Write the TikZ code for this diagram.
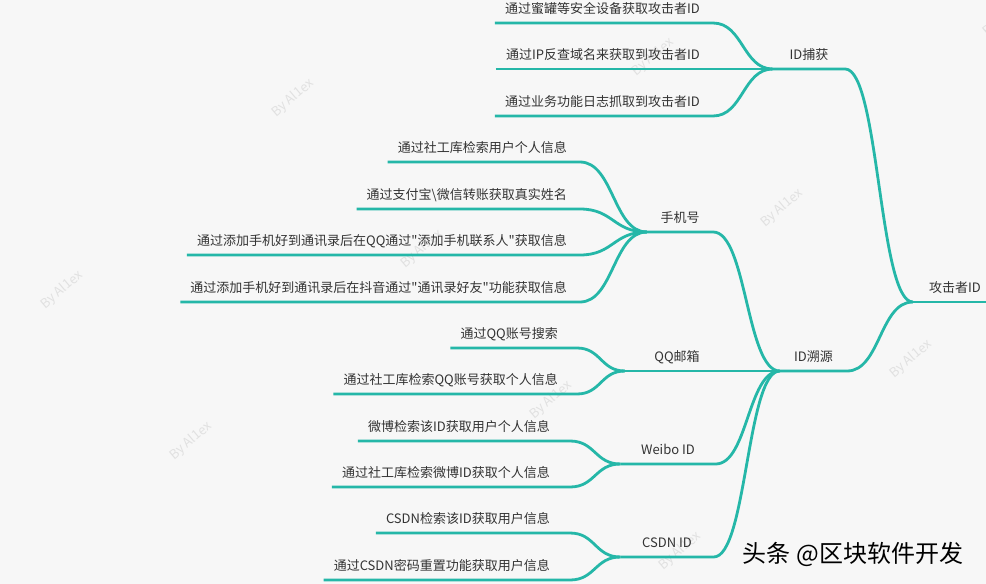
\documentclass[tikz,border=0pt]{standalone}
\usepackage{fontspec}
\newfontfamily\cjk{Noto Sans CJK SC}
\usetikzlibrary{calc}

\definecolor{stemcol}{RGB}{37,183,168}
\definecolor{txt}{RGB}{51,51,51}
\definecolor{bg}{RGB}{247,247,247}
\definecolor{wmark}{RGB}{225,225,225}

\tikzset{
  leaf/.style={font=\cjk\fontsize{13}{15}\selectfont, text=txt, inner xsep=0pt, inner ysep=9pt, text depth=0pt, anchor=south east},
  topic/.style={font=\cjk\fontsize{13}{15}\selectfont, text=txt, inner xsep=0pt, inner ysep=9pt, text depth=0pt, anchor=south},
  stem/.style={draw=stemcol, line width=2.8pt, line join=round},
  branch/.style={to path={let \p1=(\tikztostart), \p2=(\tikztotarget) in
      .. controls ({(\x1+\x2)/2},\y1) and ({(\x1+\x2)/2},\y2) .. (\tikztotarget) \tikztonodes}},
  wm/.style={font=\cjk\fontsize{13}{15}\selectfont, text=wmark, rotate=40},
  logo/.style={font=\cjk\fontsize{24}{28}\selectfont, text=black}
}

\begin{document}
\begin{tikzpicture}[x=1pt,y=-1pt]
\useasboundingbox (0,0) rectangle (986,584);
\fill[bg] (0,0) rectangle (986,584);

% watermarks
\node[wm] (wm1) at (293,98) {By Al1ex};
\node[wm] (wm2) at (422,249) {By Al1ex};
\node[wm] (wm3) at (551,400) {By Al1ex};
\node[wm] (wm4) at (680,551) {By Al1ex};
\node[wm] (wm5) at (62,290) {By Al1ex};
\node[wm] (wm6) at (191,441) {By Al1ex};
\node[wm] (wm8) at (653,57) {By Al1ex};
\node[wm] (wm9) at (782,208) {By Al1ex};
\node[wm] (wm10) at (911,359) {By Al1ex};
\node[wm] (wm11) at (1004,17) {By Al1ex};

% topics
\node[topic, minimum width=84pt] (root) at (955,302) {攻击者ID};
\node[topic, minimum width=72pt] (cap) at (809,69) {ID捕获};
\node[topic, minimum width=67pt] (src) at (813.5,371) {ID溯源};
\node[topic, minimum width=66pt] (phone) at (680,232) {手机号};
\node[topic, minimum width=104pt] (qq) at (677,371) {QQ邮箱};
\node[topic, minimum width=95pt] (weibo) at (668,464) {Weibo ID};
\node[topic, minimum width=93pt] (csdn) at (667,557) {CSDN ID};

% leaves
\node[leaf] (a1) at (700,23) {通过蜜罐等安全设备获取攻击者ID};
\node[leaf] (a2) at (700,69) {通过IP反查域名来获取到攻击者ID};
\node[leaf] (a3) at (700,116) {通过业务功能日志抓取到攻击者ID};

\node[leaf] (b1) at (567,162) {通过社工库检索用户个人信息};
\node[leaf] (b2) at (567,209) {通过支付宝{\textbackslash}微信转账获取真实姓名};
\node[leaf] (b3) at (567,255) {通过添加手机好到通讯录后在QQ通过"添加手机联系人"获取信息};
\node[leaf] (b4) at (567,302) {通过添加手机好到通讯录后在抖音通过"通讯录好友"功能获取信息};

\node[leaf] (c1) at (558,348) {通过QQ账号搜索};
\node[leaf] (c2) at (558,394) {通过社工库检索QQ账号获取个人信息};

\node[leaf] (d1) at (550,441) {微博检索该ID获取用户个人信息};
\node[leaf] (d2) at (550,487) {通过社工库检索微博ID获取个人信息};

\node[leaf] (e1) at (550,533) {CSDN检索该ID获取用户信息};
\node[leaf] (e2) at (550,580) {通过CSDN密码重置功能获取用户信息};

\node[logo] (brand) at (853,554) {头条 @区块软件开发};

% stems
\draw[stem] (root.south west) -- (root.south east);
\draw[stem] (cap.south west) -- (cap.south east) to[branch] (root.south west);
\draw[stem] (src.south west) -- (src.south east) to[branch] (root.south west);
\draw[stem] (phone.south west) -- (phone.south east) to[branch] (src.south west);
\draw[stem] (qq.south west) -- (qq.south east) -- (src.south west);
\draw[stem] (weibo.south west) -- (weibo.south east) to[branch] (src.south west);
\draw[stem] (csdn.south west) -- (csdn.south east) to[branch] (src.south west);

\draw[stem] ([xshift=-10pt]a1.south west) -- ([xshift=13pt]a1.south east) to[branch] (cap.south west);
\draw[stem] ([xshift=-10pt]a2.south west) -- (cap.south west);
\draw[stem] ([xshift=-10pt]a3.south west) -- ([xshift=13pt]a3.south east) to[branch] (cap.south west);

\draw[stem] ([xshift=-10pt]b1.south west) -- ([xshift=13pt]b1.south east) to[branch] (phone.south west);
\draw[stem] ([xshift=-10pt]b2.south west) -- ([xshift=13pt]b2.south east) to[branch] (phone.south west);
\draw[stem] ([xshift=-10pt]b3.south west) -- ([xshift=13pt]b3.south east) to[branch] (phone.south west);
\draw[stem] ([xshift=-10pt]b4.south west) -- ([xshift=13pt]b4.south east) to[branch] (phone.south west);

\draw[stem] ([xshift=-10pt]c1.south west) -- ([xshift=19pt]c1.south east) to[branch] (qq.south west);
\draw[stem] ([xshift=-10pt]c2.south west) -- ([xshift=19pt]c2.south east) to[branch] (qq.south west);

\draw[stem] ([xshift=-10pt]d1.south west) -- ([xshift=20pt]d1.south east) to[branch] (weibo.south west);
\draw[stem] ([xshift=-10pt]d2.south west) -- ([xshift=20pt]d2.south east) to[branch] (weibo.south west);

\draw[stem] ([xshift=-10pt]e1.south west) -- ([xshift=20pt]e1.south east) to[branch] (csdn.south west);
\draw[stem] ([xshift=-10pt]e2.south west) -- ([xshift=20pt]e2.south east) to[branch] (csdn.south west);
\end{tikzpicture}
\end{document}
